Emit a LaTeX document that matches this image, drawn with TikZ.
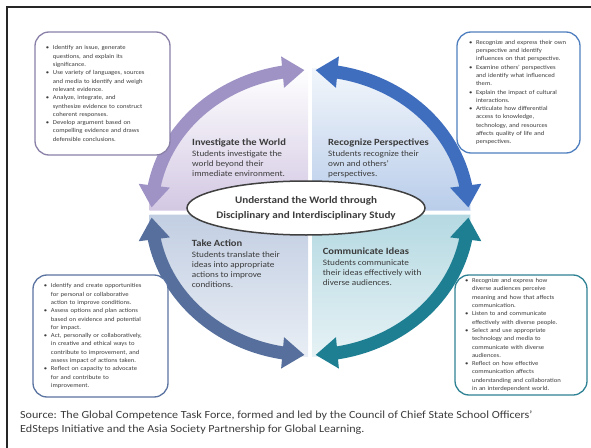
\documentclass[tikz,border=0pt]{standalone}
\usepackage{fontspec}
\setmainfont{Carlito}[FakeStretch=1.11]
\usetikzlibrary{arrows.meta,bending,shapes.geometric,positioning}

\definecolor{textgrey}{HTML}{3C3C3C}
\definecolor{ellgrey}{HTML}{404040}
\definecolor{tlarc}{HTML}{9F93C5}
\definecolor{trarc}{HTML}{3F6EBF}
\definecolor{blarc}{HTML}{566F9D}
\definecolor{brarc}{HTML}{1E7F93}
\definecolor{tlline}{HTML}{8A80A8}
\definecolor{trline}{HTML}{4F7FBF}
\definecolor{blline}{HTML}{5A73A0}
\definecolor{brline}{HTML}{2E8294}
\definecolor{tlfill}{HTML}{D3C8E3}
\definecolor{trtop}{HTML}{F2F6FB}
\definecolor{trfill}{HTML}{B9CDEA}
\definecolor{blfill}{HTML}{C2CEE2}
\definecolor{blbot}{HTML}{E9EEF5}
\definecolor{brfill}{HTML}{B5D9E2}
\definecolor{brbot}{HTML}{E6F2F5}

\newcommand{\bitem}[1]{\noindent\hangindent=7pt\hangafter=1\makebox[7pt][l]{\textbullet}#1\par}

\begin{document}
\begin{tikzpicture}[x=1pt, y=1pt,
	cornerbox/.style={draw, rounded corners=14pt, line width=1.3pt, fill=white, text=textgrey, font=\fontsize{6}{8.3}\selectfont},
	qhead/.style={inner sep=0pt, anchor=base west, text=textgrey, font=\bfseries\fontsize{9.5}{11}\selectfont},
	qbody/.style={inner sep=0pt, align=left, text=textgrey, font=\fontsize{8.3}{10}\selectfont},
	quarc/.style={line width=13pt, <->},
	>={Triangle[length=22pt, width=30pt]}]

	%Frame
	\useasboundingbox (-310,-234.5) rectangle (281,212.5);
	\draw[line width=2.5pt, black!85] (-303,-240) -- (-303,205.5) -- (290,205.5);

	%Quarters
	\shade[top color=white, bottom color=tlfill] (-2,2) -- ++(-158.5,0) arc[start angle=180, end angle=90, x radius=158.5, y radius=142.5] -- cycle;
	\shade[top color=trtop, bottom color=trfill] (2,2) -- ++(158.5,0) arc[start angle=0, end angle=90, x radius=158.5, y radius=142.5] -- cycle;
	\shade[top color=blfill, bottom color=blbot] (-2,-2) -- ++(-158.5,0) arc[start angle=180, end angle=270, x radius=158.5, y radius=142.5] -- cycle;
	\shade[top color=brfill, bottom color=brbot] (2,-2) -- ++(158.5,0) arc[start angle=0, end angle=-90, x radius=158.5, y radius=142.5] -- cycle;

	%Arrows
	\draw[quarc, tlarc] (178:158.5 and 142.5) arc[start angle=178, end angle=92, x radius=158.5, y radius=142.5];
	\draw[quarc, trarc] (88:158.5 and 142.5) arc[start angle=88, end angle=2, x radius=158.5, y radius=142.5];
	\draw[quarc, brarc] (-2:158.5 and 142.5) arc[start angle=-2, end angle=-88, x radius=158.5, y radius=142.5];
	\draw[quarc, blarc] (-92:158.5 and 142.5) arc[start angle=-92, end angle=-178, x radius=158.5, y radius=142.5];

	%Quarter texts
	\node[qhead] (invhead) at (-118,66.5) {Investigate the World};
	\node[qbody, below=5pt of invhead.base west, anchor=north west] (invtext) {Students investigate the\\world beyond their\\immediate environment.};
	\node[qhead] (perhead) at (18,66.5) {Recognize Perspectives};
	\node[qbody, below=5pt of perhead.base west, anchor=north west] (pertext) {Students recognize their\\own and others'\\perspectives.};
	\node[qhead] (acthead) at (-118.3,-34.2) {Take Action};
	\node[qbody, below=5pt of acthead.base west, anchor=north west] (acttext) {Students translate their\\ideas into appropriate\\actions to improve\\conditions.};
	\node[qhead] (comhead) at (12.7,-41.8) {Communicate Ideas};
	\node[qbody, below=5.7pt of comhead.base west, anchor=north west] (comtext) {Students communicate\\their ideas effectively with\\diverse audiences.};

	%Centre
	\node[draw=ellgrey, line width=1.5pt, fill=white, ellipse, minimum width=238pt, minimum height=54pt, inner sep=0pt] (core) at (-4,4.5) {};
	\node[align=center, inner sep=0pt, text=textgrey, font=\bfseries\fontsize{10}{15}\selectfont] (coretext) at (core) {Understand the World through\\Disciplinary and Interdisciplinary Study};

	%Boxes
	\node[cornerbox, draw=tlline, inner xsep=11pt, text width=113pt, minimum height=123pt] (tlbox) at (-207.5,119) {%
		\bitem{Identify an issue, generate\newline questions, and explain its\newline significance.}
		\bitem{Use variety of languages, sources\newline and media to identify and weigh\newline relevant evidence.}
		\bitem{Analyze, integrate, and\newline synthesize evidence to construct\newline coherent responses.}
		\bitem{Develop argument based on\newline compelling evidence and draws\newline defensible conclusions.}};
	\node[cornerbox, draw=trline, inner xsep=12pt, text width=99pt, minimum height=121pt] (trbox) at (208.5,120) {%
		\bitem{Recognize and express their own\newline perspective and identify\newline influences on that perspective.}
		\bitem{Examine others' perspectives\newline and identify what influenced\newline them.}
		\bitem{Explain the impact of cultural\newline interactions.}
		\bitem{Articulate how differential\newline access to knowledge,\newline technology, and resources\newline affects quality of life and\newline perspectives.}};
	\node[cornerbox, draw=blline, inner xsep=11pt, text width=113pt, minimum height=122pt] (blbox) at (-209.5,-123.5) {%
		\bitem{Identify and create opportunities\newline for personal or collaborative\newline action to improve conditions.}
		\bitem{Assess options and plan actions\newline based on evidence and potential\newline for impact.}
		\bitem{Act, personally or collaboratively,\newline in creative and ethical ways to\newline contribute to improvement, and\newline assess impact of actions taken.}
		\bitem{Reflect on capacity to advocate\newline for and contribute to\newline improvement.}};
	\node[cornerbox, draw=brline, inner xsep=10pt, text width=112pt, minimum height=120pt] (brbox) at (211,-122.5) {%
		\bitem{Recognize and express how\newline diverse audiences perceive\newline meaning and how that affects\newline communication.}
		\bitem{Listen to and communicate\newline effectively with diverse people.}
		\bitem{Select and use appropriate\newline technology and media to\newline communicate with diverse\newline audiences.}
		\bitem{Reflect on how effective\newline communication affects\newline understanding and collaboration\newline in an interdependent world.}};

	%Source
	\node[anchor=base west, inner sep=0pt, align=left, text=textgrey, font=\fontsize{10.9}{14}\selectfont] (source) at (-290,-220) {Source: The Global Competence Task Force, formed and led by the Council of Chief State School Officers'\\EdSteps Initiative and the Asia Society Partnership for Global Learning.};
\end{tikzpicture}
\end{document}
